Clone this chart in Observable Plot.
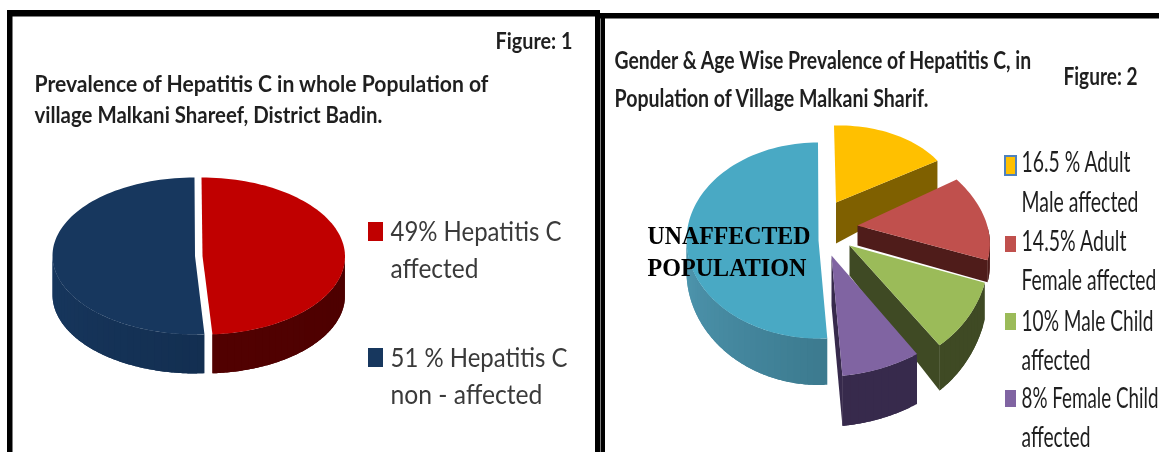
<!DOCTYPE html>
<html>
<head>
<meta charset="utf-8">
<script src="https://cdn.jsdelivr.net/npm/d3@7"></script>
<script src="https://cdn.jsdelivr.net/npm/@observablehq/plot@0.6"></script>
<style>
html,body{margin:0;padding:0;background:#fff;overflow:hidden}
svg{display:block;filter:blur(0.6px)}
</style>
</head>
<body>
<div id="chart"></div>
<script>
// ---- data ----
const fig1Slices = ["Hepatitis C affected", "Hepatitis C non-affected"];
const fig1Values = [49, 51];
const fig2Slices = ["Adult Male affected", "Adult Female affected", "Male Child affected", "Female Child affected", "Unaffected"];
const fig2Values = [16.5, 14.5, 10, 8, 51];

// ---- styles and layout ----
const fig1Top = ["#c00000", "#17375e"];
const fig1Side = [["#4d0000", "#560202"], ["#0f2745", "#17375e"]];
const fig2Top = ["#ffc000", "#c0504d", "#9bbb59", "#8064a2", "#49a9c4"];
const fig2Side = [["#7f6000", "#7f6000"], ["#4f1c1a", "#4f1c1a"], ["#3f4a24", "#3f4a24"], ["#372a4c", "#372a4c"], ["#2a5f70", "#4f97b0"]];
// each exploded slice: centre, radii, skew, depth, perspective growth of the depth
const fig1Geom = [
  {cx: 202, cy: 255.5, rx: 142.5, ry: 78.5, sx: 1, sy: 0, d: 39, k: 0, noFace: true},
  {cx: 194.5, cy: 255.5, rx: 142.5, ry: 78.5, sx: 0.5, sy: 0, d: 39, k: 0}
];
const fig2Geom = [
  {cx: 835.5, cy: 202, rx: 119, ry: 77, sx: 2, sy: -3, d: 41, k: 0.6},
  {cx: 857, cy: 225, rx: 130, ry: 92, sx: 25, sy: 1, d: 20, k: 0.25},
  {cx: 849, cy: 245, rx: 138, ry: 124, sx: 19, sy: -9, d: 30, k: 0.6},
  {cx: 831, cy: 255, rx: 158, ry: 121, sx: 1, sy: -7, d: 50, k: 0},
  {cx: 818, cy: 240, rx: 132, ry: 98, sx: 0.5, sy: 0, d: 31, k: 0.5}
];
const frames = [
  {x1: 7, x2: 600, y1: 10, y2: 16.5},
  {x1: 7, x2: 12.5, y1: 10, y2: 452},
  {x1: 595, x2: 600, y1: 10, y2: 452},
  {x1: 600, x2: 1159, y1: 13, y2: 18.5},
  {x1: 600.5, x2: 605, y1: 13, y2: 452}
];
const legendSwatches = [
  {x1: 368, x2: 383, y1: 222, y2: 241, fill: fig1Top[0]},
  {x1: 368, x2: 383, y1: 348, y2: 367, fill: fig1Top[1]},
  {x1: 1005, x2: 1016, y1: 156, y2: 175, fill: fig2Top[0], stroke: "#4f81bd"},
  {x1: 1005, x2: 1016, y1: 236, y2: 252, fill: fig2Top[1]},
  {x1: 1005, x2: 1016, y1: 313, y2: 330, fill: fig2Top[2]},
  {x1: 1005, x2: 1016, y1: 390, y2: 407, fill: fig2Top[3]}
];
const boldTexts = [
  {t: "Figure: 1", x: 495, y: 41, w: 77, s: 22},
  {t: "Prevalence of Hepatitis C in whole Population of", x: 34, y: 84, w: 454, s: 23},
  {t: "village Malkani Shareef, District Badin.", x: 34, y: 115, w: 348, s: 23},
  {t: "Gender & Age Wise Prevalence of Hepatitis C, in", x: 614, y: 60, w: 417, s: 25},
  {t: "Population of Village Malkani Sharif.", x: 614, y: 98, w: 314, s: 25},
  {t: "Figure: 2", x: 1063, y: 76, w: 74, s: 25}
];
const plainTexts = [
  {t: "49% Hepatitis C", x: 390, y: 232, w: 171, s: 27},
  {t: "affected", x: 390, y: 269, w: 88, s: 27},
  {t: "51 % Hepatitis C", x: 390, y: 358, w: 177, s: 27},
  {t: "non - affected", x: 390, y: 395, w: 152, s: 27}
];
const condensedTexts = [
  {t: "16.5 % Adult", x: 1021, y: 163, w: 109, s: 28},
  {t: "Male affected", x: 1021, y: 203, w: 117, s: 28},
  {t: "14.5% Adult", x: 1021, y: 242, w: 105, s: 28},
  {t: "Female affected", x: 1021, y: 281, w: 135, s: 28},
  {t: "10% Male Child", x: 1021, y: 322, w: 132, s: 28},
  {t: "affected", x: 1021, y: 361, w: 69, s: 28},
  {t: "8% Female Child", x: 1021, y: 399, w: 137, s: 28},
  {t: "affected", x: 1021, y: 438, w: 69, s: 28}
];
const pieTexts = [
  {t: "UNAFFECTED", x: 647, y: 235, w: 163, s: 25},
  {t: "POPULATION", x: 647, y: 267, w: 159, s: 25}
];

// ---- build polygons from the values ----
function pt(g, a, r = 1, drop = false) {
  const s = Math.sin(a) * r, c = -Math.cos(a) * r;
  const x = g.cx + g.rx * s + g.sx * c;
  const y = g.cy + g.ry * c + g.sy * s;
  const dd = g.d * (1 + g.k * c);
  return [x, drop ? y + dd : y];
}
const rows = [];
let pid = 0;
function poly(points, color) {
  const id = pid++;
  for (const [x, y] of points) rows.push({x, y, id, color});
}
function addPie(values, geom, tops, sides, order) {
  const arcs = d3.pie().sort(null).startAngle(0).endAngle(2 * Math.PI)(values);
  for (const i of order) {
    const {startAngle: a0, endAngle: a1} = arcs[i];
    const g = geom[i];
    const [dark, light] = sides[i];
    if (!g.noFace && Math.sin(a1) > 0.001) poly([pt(g, 0, 0), pt(g, a1), pt(g, a1, 1, true), pt(g, 0, 0, true)], dark);
    if (!g.noFace && Math.sin(a0) < -0.001) poly([pt(g, 0, 0), pt(g, a0), pt(g, a0, 1, true), pt(g, 0, 0, true)], dark);
    // outer wall in overlapping strips so that its shade can run along the rim
    const v0 = Math.max(a0, Math.PI / 2), v1 = Math.min(a1, 3 * Math.PI / 2);
    if (v1 > v0) {
      const n = Math.ceil((v1 - v0) / (Math.PI / 60));
      const step = (v1 - v0) / n;
      for (let j = 0; j < n; j++) {
        const b0 = v0 + step * j, b1 = Math.min(v1, b0 + 2 * step), m = 8;
        const t = (b0 + step / 2 - Math.PI / 2) / Math.PI;
        const pts = [];
        for (let q = 0; q <= m; q++) pts.push(pt(g, b0 + (b1 - b0) * q / m));
        for (let q = m; q >= 0; q--) pts.push(pt(g, b0 + (b1 - b0) * q / m, 1, true));
        poly(pts, d3.interpolateRgb(dark, light)(t));
      }
    }
    const top = [pt(g, 0, 0)];
    const n = Math.ceil((a1 - a0) / (Math.PI / 90));
    for (let j = 0; j <= n; j++) top.push(pt(g, a0 + (a1 - a0) * j / n));
    poly(top, tops[i]);
  }
}
addPie(fig1Values, fig1Geom, fig1Top, fig1Side, [1, 0]);
addPie(fig2Values, fig2Geom, fig2Top, fig2Side, [4, 0, 1, 2, 3]);

const sans = "Lato, 'Open Sans', sans-serif";
const textOpts = (color, family, weight) => ({
  x: "x", y: "y", text: "t", fontSize: "s", textAnchor: "start", lineAnchor: "middle",
  fill: color, fontFamily: family, fontWeight: weight
});

const svg = Plot.plot({
  width: 1159, height: 452, margin: 0,
  x: {axis: null, domain: [0, 1159], range: [0, 1159]},
  y: {axis: null, domain: [0, 452], range: [0, 452]},
  marks: [
    Plot.line(rows, {x: "x", y: "y", z: "id", fill: "color", stroke: "none", curve: "linear-closed"}),
    Plot.rect(frames, {x1: "x1", x2: "x2", y1: "y1", y2: "y2", fill: "#000"}),
    Plot.rect(legendSwatches, {x1: "x1", x2: "x2", y1: "y1", y2: "y2", fill: "fill", stroke: d => d.stroke || "none", strokeWidth: 2}),
    Plot.text(boldTexts, textOpts("#1f1f1f", sans, 700)),
    Plot.text(plainTexts, textOpts("#3a3a3a", sans, 400)),
    Plot.text(condensedTexts, textOpts("#1f1f1f", sans, 400)),
    Plot.text(pieTexts, textOpts("#000", "'Liberation Serif', serif", 700))
  ]
});
document.getElementById("chart").appendChild(svg);

// fit each line to the width and height it has in the picture
const allTexts = [...boldTexts, ...plainTexts, ...condensedTexts, ...pieTexts];
svg.querySelectorAll("text").forEach((el, i) => {
  const d = allTexts[i];
  if (!d) return;
  const natural = el.getComputedTextLength();
  let sx = 1, sy = 1;
  if (natural > d.w) {
    const size = d.s * d.w / natural;
    el.setAttribute("font-size", size);
    sy = d.s / size;
  } else {
    sx = d.w / natural;
  }
  el.setAttribute("transform", `${el.getAttribute("transform") || ""} scale(${sx},${sy})`);
});
</script>
</body>
</html>
